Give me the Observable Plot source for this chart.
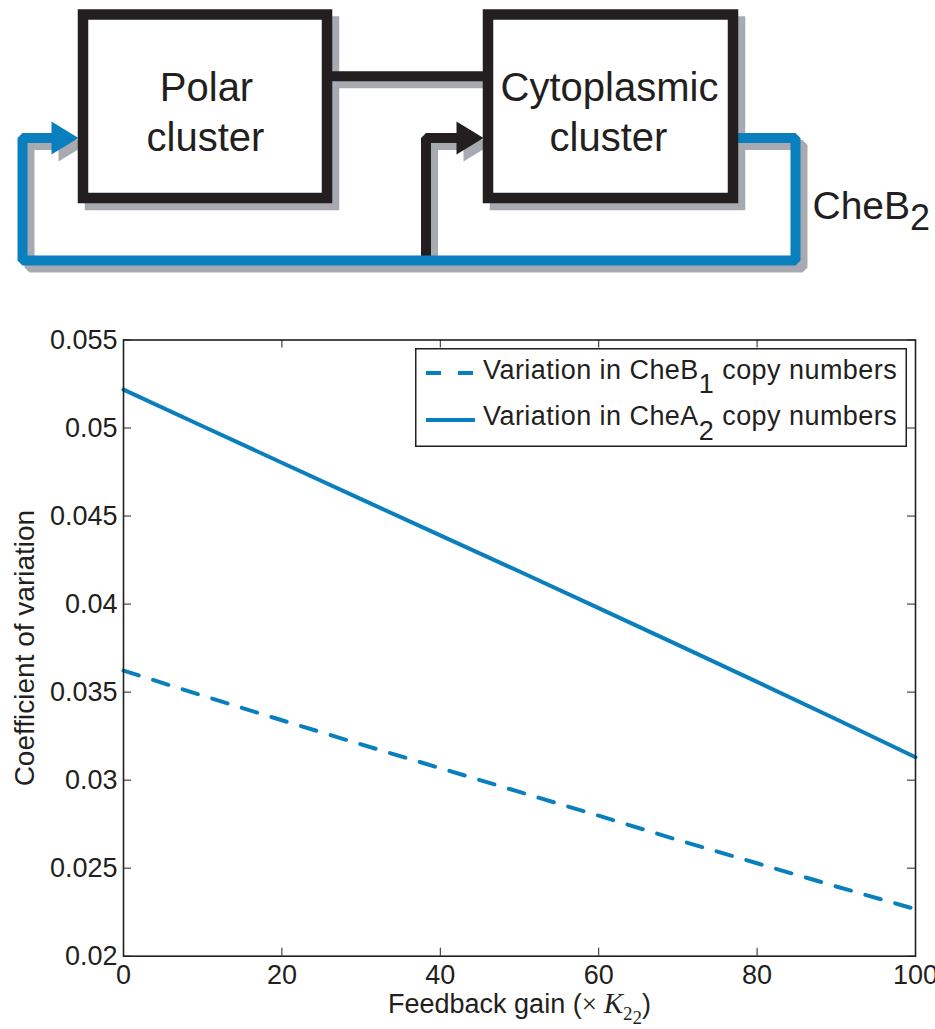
<!DOCTYPE html>
<html>
<head>
<meta charset="utf-8">
<script src="https://cdn.jsdelivr.net/npm/d3@7"></script>
<script src="https://cdn.jsdelivr.net/npm/@observablehq/plot@0.6"></script>
<style>
  body { margin: 0; background: #fff; font-family: "Liberation Sans", Arial, Helvetica, sans-serif; }
  #wrap { position: relative; width: 935px; height: 1029px; overflow: hidden; background: #fff; }
  #diagram { position: absolute; left: 0; top: 0; }
  #chart { position: absolute; left: 0; top: 290px; }
  #legend { position: absolute; left: 415px; top: 348px; }
</style>
</head>
<body>
<div id="wrap">
  <div id="diagram"></div>
  <div id="chart"></div>
  <div id="legend"></div>
</div>
<script>
// ---------------- DATA ----------------
const gain = [0, 10, 20, 30, 40, 50, 60, 70, 80, 90, 100];
const cheB1 = [0.03622, 0.03480, 0.03340, 0.03203, 0.03068, 0.02933, 0.02798, 0.02660, 0.02528, 0.02396, 0.02267];
const cheA2 = [0.05218, 0.05010, 0.04803, 0.04596, 0.04390, 0.04185, 0.03977, 0.03768, 0.03558, 0.03346, 0.03130];
const seriesNames = ["Variation in CheB_1 copy numbers", "Variation in CheA_2 copy numbers"];
const xTicks = [0, 20, 40, 60, 80, 100];
const yTicks = [0.02, 0.025, 0.03, 0.035, 0.04, 0.045, 0.05, 0.055];
const xLabel = "Feedback gain (× K22)";
const yLabel = "Coefficient of variation";

// diagram (block diagram units)
const diagBoxes = [
  { name: "Polar", x1: 83, x2: 327, y1: 14.5, y2: 198 },
  { name: "Cytoplasmic", x1: 488, x2: 733, y1: 14.5, y2: 198 }
];
const diagLabels = [
  { text: "Polar", x: 206, y: 100.5 },
  { text: "cluster", x: 205, y: 150 },
  { text: "Cytoplasmic", x: 609, y: 100 },
  { text: "cluster", x: 608, y: 150 }
];
const diagSideLabel = [{ text: "CheB_2", x: 812, y: 218 }];
const blackLinks = [
  { id: "connector", pts: [[330, 75.8], [485, 75.8]] },
  { id: "feedback", pts: [[425.5, 262], [425.5, 137.5], [458, 137.5]] }
];
const blueLinks = [
  { id: "cheB2", pts: [[735, 137.5], [795, 137.5], [795, 260], [22, 260], [22, 137.5], [53, 137.5]] }
];
const blueArrows = [{ id: "a1", pts: [[78, 137.5], [51, 121], [51, 154]] }];
const blackArrows = [{ id: "a2", pts: [[483, 137.5], [456, 121], [456, 154]] }];

// ---------------- STYLE ----------------
const BLUE = "#0a7fbd";
const INK = "#231f20";
const SHADOW = "#a7abb1";
const FONT = '"Liberation Sans", Arial, Helvetica, sans-serif';

const flat = (arr) => arr.flatMap(d => d.pts.map(([x, y]) => ({ id: d.id, x, y })));

// ---------------- DIAGRAM ----------------
const SH = 7;
const diagram = Plot.plot({
  width: 935, height: 290,
  margin: 0,
  x: { domain: [0, 935], axis: null },
  y: { domain: [290, 0], axis: null },
  style: { fontFamily: FONT, background: "white", overflow: "visible", color: INK },
  marks: [
    // shadows
    Plot.rect(diagBoxes, { x1: "x1", x2: "x2", y1: "y1", y2: "y2", fill: SHADOW, stroke: SHADOW, strokeWidth: 10.5, dx: SH, dy: SH }),
    Plot.line(flat(blackLinks.concat(blueLinks)), { x: "x", y: "y", z: "id", stroke: SHADOW, strokeWidth: 10, strokeLinejoin: "miter", strokeLinecap: "butt", dx: SH, dy: SH }),
    Plot.line(flat(blueArrows.concat(blackArrows)), { x: "x", y: "y", z: "id", fill: SHADOW, stroke: "none", dx: SH, dy: SH }),
    // connectors
    Plot.line(flat(blackLinks), { x: "x", y: "y", z: "id", stroke: INK, strokeWidth: 10, strokeLinejoin: "miter", strokeLinecap: "butt" }),
    Plot.line(flat(blueLinks), { x: "x", y: "y", z: "id", stroke: BLUE, strokeWidth: 10, strokeLinejoin: "miter", strokeLinecap: "butt" }),
    Plot.line(flat(blueArrows), { x: "x", y: "y", z: "id", fill: BLUE, stroke: "none" }),
    Plot.line(flat(blackArrows), { x: "x", y: "y", z: "id", fill: INK, stroke: "none" }),
    // boxes
    Plot.rect(diagBoxes, { x1: "x1", x2: "x2", y1: "y1", y2: "y2", fill: "white", stroke: INK, strokeWidth: 10.5 }),
    // labels
    Plot.text(diagLabels, { x: "x", y: "y", text: "text", fontSize: 40, fill: INK, textAnchor: "middle", lineAnchor: "bottom" }),
    Plot.text(diagSideLabel, { x: "x", y: "y", text: "text", fontSize: 39, fill: INK, textAnchor: "start", lineAnchor: "bottom" })
  ]
});
document.getElementById("diagram").appendChild(diagram);

// ---------------- CHART ----------------
const W = 935, H = 739;
const mL = 123, mR = 20, mT = 49.5, mB = 73.3;
const innerW = W - mL - mR, innerH = H - mT - mB;
const TICK = 8;

const rows = [];
gain.forEach((g, i) => {
  rows.push({ series: "CheB1", gain: g, cv: cheB1[i] });
  rows.push({ series: "CheA2", gain: g, cv: cheA2[i] });
});

const chart = Plot.plot({
  width: W, height: H,
  marginLeft: mL, marginRight: mR, marginTop: mT, marginBottom: mB,
  style: { fontFamily: FONT, fontSize: "27px", color: INK, background: "white", overflow: "visible" },
  x: { domain: [0, 100], ticks: xTicks, tickSize: 0, tickPadding: 9, label: null, tickFormat: d => String(d) },
  y: { domain: [0.02, 0.055], ticks: yTicks, tickSize: 0, tickPadding: 6, label: null, tickFormat: d => String(+d.toFixed(3)) },
  marks: [
    Plot.line(rows.filter(d => d.series === "CheB1"), { x: "gain", y: "cv", stroke: BLUE, strokeWidth: 4, strokeDasharray: "16,15" }),
    Plot.line(rows.filter(d => d.series === "CheA2"), { x: "gain", y: "cv", stroke: BLUE, strokeWidth: 4 }),
    // inward ticks (MATLAB style)
    Plot.tickX(xTicks, { x: d => d, stroke: INK, strokeWidth: 1, insetTop: innerH - TICK }),
    Plot.tickX(xTicks, { x: d => d, stroke: INK, strokeWidth: 1, insetBottom: innerH - TICK }),
    Plot.tickY(yTicks, { y: d => d, stroke: INK, strokeWidth: 1, insetRight: innerW - TICK }),
    Plot.tickY(yTicks, { y: d => d, stroke: INK, strokeWidth: 1, insetLeft: innerW - TICK }),
    Plot.frame({ stroke: INK, strokeWidth: 1.6 }),
    Plot.text([yLabel], { text: d => d, frameAnchor: "left", dx: -90, rotate: -90, textAnchor: "middle", lineAnchor: "bottom", fontSize: 28, fill: INK }),
    Plot.text([xLabel], { text: d => d, frameAnchor: "bottom", dy: 57, textAnchor: "middle", lineAnchor: "bottom", fontSize: 27, fill: INK })
  ]
});
document.getElementById("chart").appendChild(chart);

// ---------------- rich text (subscripts / italic) ----------------
const NS = "http://www.w3.org/2000/svg";
function tspan(parent, text, attrs = {}) {
  const t = document.createElementNS(NS, "tspan");
  for (const k in attrs) t.setAttribute(k, attrs[k]);
  t.textContent = text;
  parent.appendChild(t);
  return t;
}
function subscriptify(root, shift, size) {
  root.querySelectorAll("text").forEach(t => {
    if (t.children.length) return;
    const s = t.textContent;
    const m = /^(.*)_(\S)(.*)$/.exec(s);
    if (!m) return;
    t.textContent = "";
    tspan(t, m[1]);
    const a = { dy: shift };
    if (size) a["font-size"] = size;
    tspan(t, m[2], a);
    if (m[3]) tspan(t, m[3], { dy: "-" + shift });
  });
}
subscriptify(diagram, "0.33em", "36px");

chart.querySelectorAll("text").forEach(t => {
  if (t.textContent === xLabel) {
    t.textContent = "";
    tspan(t, "Feedback gain (");
    tspan(t, "× ", { "font-family": '"Liberation Serif", "Times New Roman", serif' });
    tspan(t, "K", { "font-family": '"Liberation Serif", "Times New Roman", serif', "font-style": "italic", "font-size": "29px" });
    tspan(t, "2", { dy: "7", "font-size": "19px", "font-family": '"Liberation Serif", "Times New Roman", serif' });
    tspan(t, "2", { dy: "4", "font-size": "19px", "font-family": '"Liberation Serif", "Times New Roman", serif' });
    tspan(t, ")", { dy: "-11" });
  }
});

// ---------------- LEGEND ----------------
const lg = d3.select("#legend").append("svg")
  .attr("width", 493).attr("height", 100)
  .style("font-family", FONT).style("overflow", "visible");
lg.append("rect").attr("x", 0.75).attr("y", 0.75).attr("width", 490.5).attr("height", 97.5)
  .attr("fill", "white").attr("stroke", INK).attr("stroke-width", 1.5);
const legendItems = [
  { name: seriesNames[0], dash: "15,17", x2: 58, y: 25, base: 30.5 },
  { name: seriesNames[1], dash: null, x2: 60, y: 72, base: 77 }
];
legendItems.forEach(it => {
  lg.append("line").attr("x1", 11).attr("x2", it.x2).attr("y1", it.y).attr("y2", it.y)
    .attr("stroke", BLUE).attr("stroke-width", 4).attr("stroke-dasharray", it.dash);
  lg.append("text").attr("x", 68).attr("y", it.base).attr("fill", INK)
    .style("font-size", "27px").style("letter-spacing", "0.45px").text(it.name);
});
subscriptify(lg.node(), "0.55em");
</script>
</body>
</html>
